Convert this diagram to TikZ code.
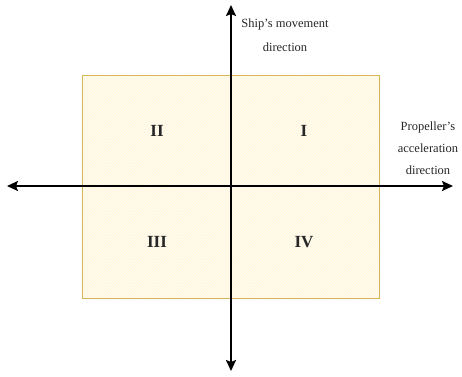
\documentclass[tikz,border=0pt]{standalone}
\usepackage{fontspec}
\setmainfont{Liberation Serif}
\usetikzlibrary{arrows.meta,patterns}
\definecolor{boxfill}{RGB}{255,252,242}
\definecolor{boxhatch}{RGB}{255,243,210}
\definecolor{boxline}{RGB}{214,182,86}
\tikzset{
  quad/.style={font=\fontsize{17}{19}\selectfont\bfseries, text=black!85},
  lbl/.style={font=\fontsize{12.5}{24}\selectfont, align=center, text=black!85},
  axis/.style={line width=2pt, {Stealth[length=11pt,width=10pt,inset=2pt]}-{Stealth[length=11pt,width=10pt,inset=2pt]}},
}
\begin{document}
\begin{tikzpicture}[x=1pt,y=-1pt]
\useasboundingbox (0,0) rectangle (462,376);
\node[minimum width=296pt, minimum height=222pt, inner sep=0pt] (box) at (231,187) {};
\fill[boxfill] (box.south west) rectangle (box.north east);
\fill[pattern=north east lines, pattern color=boxhatch] (box.south west) rectangle (box.north east);
\draw[boxline, line width=1pt] (box.south west) rectangle (box.north east);
\coordinate (top) at (231,5);
\coordinate (bottom) at (231,371);
\coordinate (left) at (7,186);
\coordinate (right) at (453,186);
\draw[axis] (bottom) -- (top);
\draw[axis] (left) -- (right);
\node[quad] (q2) at (157,131) {II};
\node[quad] (q1) at (304,131) {I};
\node[quad] (q3) at (157,242) {III};
\node[quad] (q4) at (304,242) {IV};
\node[lbl] (ship) at (285,35) {Ship{\char"0027}s movement\\direction};
\node[lbl, font=\fontsize{12.5}{22}\selectfont] (prop) at (428,148) {Propeller{\char"0027}s\\acceleration\\direction};
\end{tikzpicture}
\end{document}
